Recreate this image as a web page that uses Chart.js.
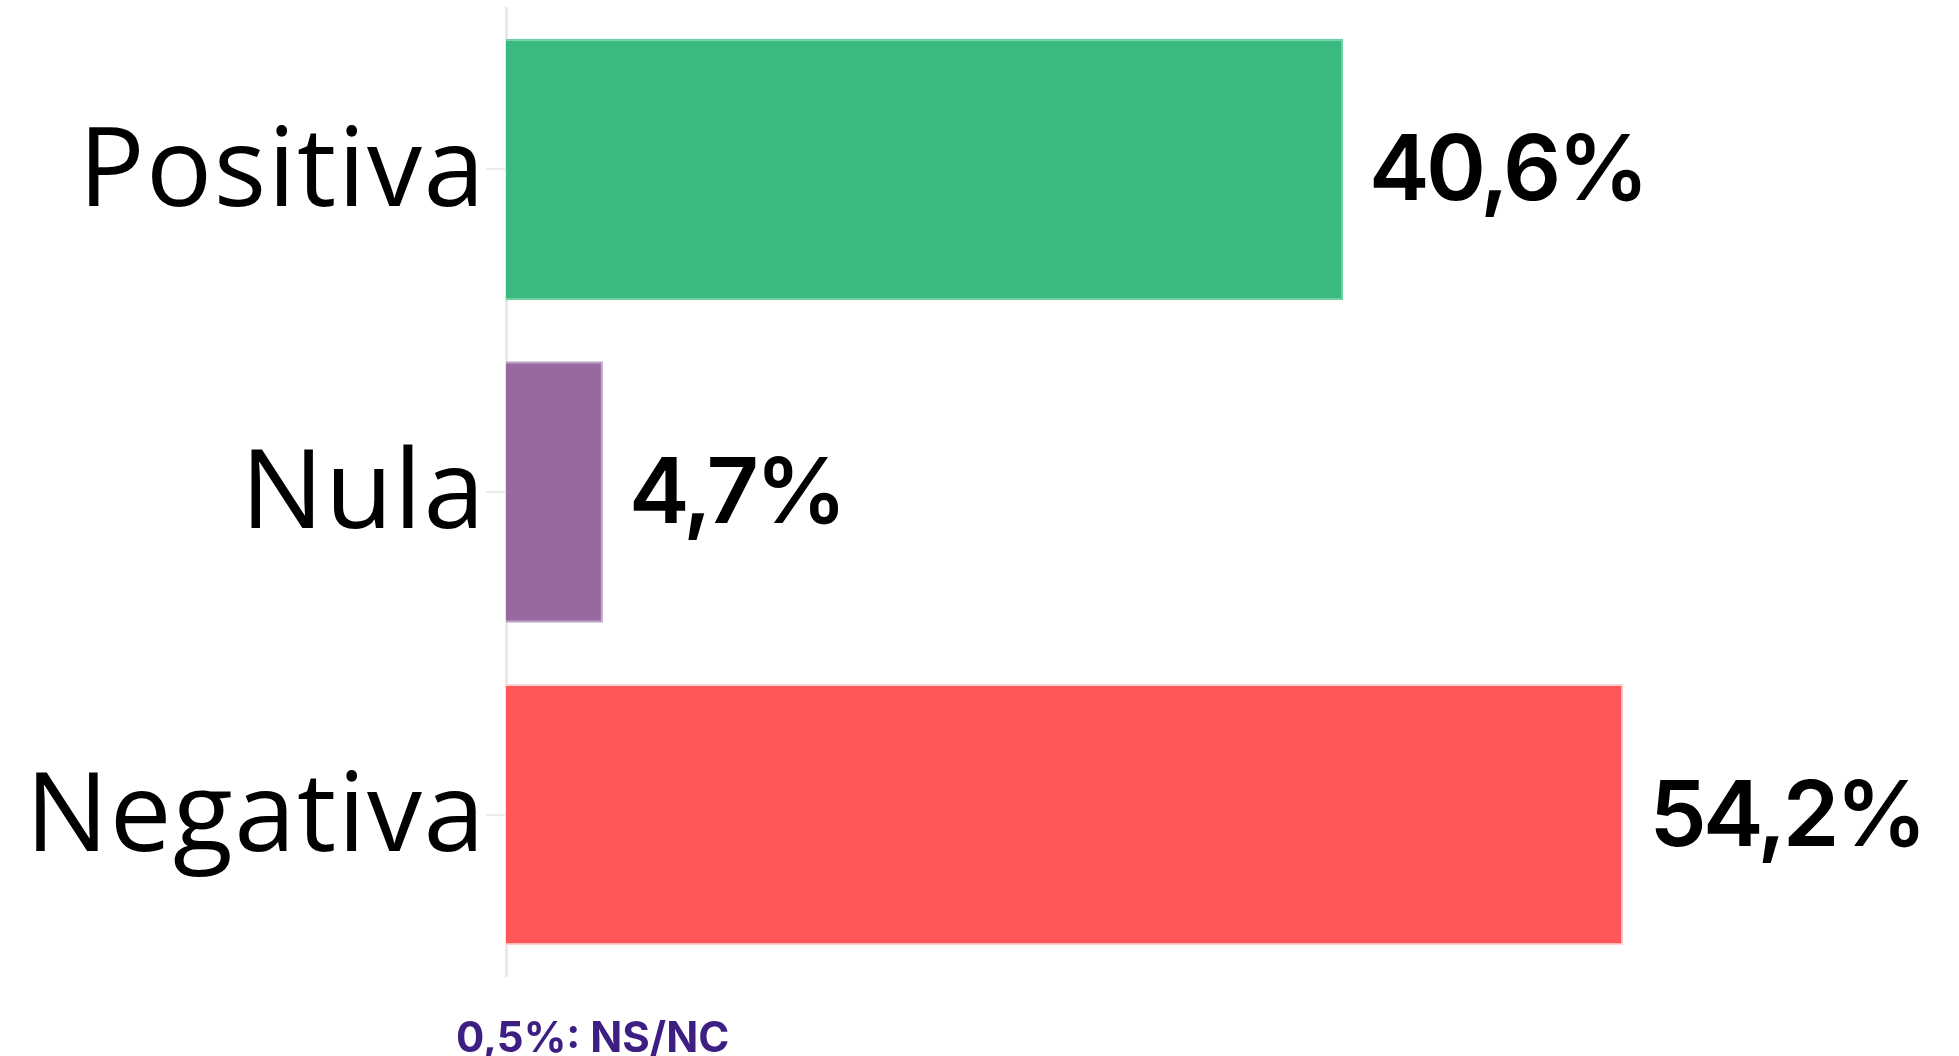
<!DOCTYPE html>
<html>
<head>
<meta charset="utf-8">
<script src="https://cdn.jsdelivr.net/npm/chart.js@4"></script>
<style>
  html, body { margin: 0; padding: 0; background: #ffffff; }
  #wrap { position: relative; width: 1959px; height: 1056px; }
</style>
</head>
<body>
<div id="wrap"><canvas id="chart" width="1959" height="1056"></canvas></div>
<script>
// Opinion breakdown (percent of respondents)
const categories = ['Positiva', 'Nula', 'Negativa'];
const values = [40.6, 4.7, 54.2];
const valueLabels = ['40,6%', '4,7%', '54,2%'];
const barColors = ['#3bba80', '#97699f', '#ff5757'];
const barEdgeColors = ['#72cfa4', '#c2a4c8', '#ffd2d2'];
const footnote = '0,5%: NS/NC';

// Slightly open tracking for the category names on the axis
const axisTrackingPlugin = {
  id: 'axisTracking',
  beforeDraw(chart) { chart.ctx.letterSpacing = '1.5px'; },
  beforeDatasetsDraw(chart) { chart.ctx.letterSpacing = '0px'; }
};

// Bold value text to the right of each bar
const valueLabelPlugin = {
  id: 'valueLabels',
  afterDatasetsDraw(chart) {
    const ctx = chart.ctx;
    const meta = chart.getDatasetMeta(0);
    ctx.save();
    ctx.font = '600 91px Inter, "Liberation Sans", sans-serif';
    ctx.letterSpacing = '-3.5px';
    ctx.fillStyle = '#000000';
    ctx.textAlign = 'left';
    ctx.textBaseline = 'alphabetic';
    meta.data.forEach((bar, i) => {
      ctx.fillText(valueLabels[i], bar.x + 26, bar.y + 31);
    });
    ctx.restore();
  }
};

// Note about the remaining share, under the axis
const footnotePlugin = {
  id: 'footnote',
  afterDraw(chart) {
    const ctx = chart.ctx;
    ctx.save();
    ctx.font = 'bold 42px Inter, "Liberation Sans", sans-serif';
    ctx.letterSpacing = '0px';
    ctx.fillStyle = '#3d1f84';
    ctx.textAlign = 'left';
    ctx.textBaseline = 'alphabetic';
    ctx.fillText(footnote, 456, 1052);
    ctx.restore();
  }
};

new Chart(document.getElementById('chart'), {
  type: 'bar',
  data: {
    labels: categories,
    datasets: [{
      data: values,
      backgroundColor: barColors,
      borderColor: barEdgeColors,
      borderWidth: { top: 2, right: 2, bottom: 2, left: 0 },
      borderSkipped: false,
      categoryPercentage: 0.9,
      barPercentage: 0.9
    }]
  },
  options: {
    indexAxis: 'y',
    responsive: false,
    animation: false,
    events: [],
    layout: { padding: { top: 8, bottom: 80, right: 14, left: 0 } },
    plugins: {
      legend: { display: false },
      tooltip: { enabled: false },
      title: { display: false }
    },
    scales: {
      x: {
        display: false,
        min: 0,
        max: 69.8
      },
      y: {
        afterFit(scale) {
          scale.width = 506;
          scale.paddingTop = 0;
          scale.paddingBottom = 0;
        },
        border: { display: true, color: '#e9e9e9', width: 3 },
        grid: {
          offset: false,
          drawOnChartArea: false,
          drawTicks: true,
          tickLength: 20,
          color: '#ececec',
          lineWidth: 2
        },
        ticks: {
          color: '#000000',
          padding: 0,
          labelOffset: 5,
          font: { family: '"Open Sans", "Noto Sans", sans-serif', size: 110, weight: '400' }
        }
      }
    }
  },
  plugins: [axisTrackingPlugin, valueLabelPlugin, footnotePlugin]
});
</script>
</body>
</html>
